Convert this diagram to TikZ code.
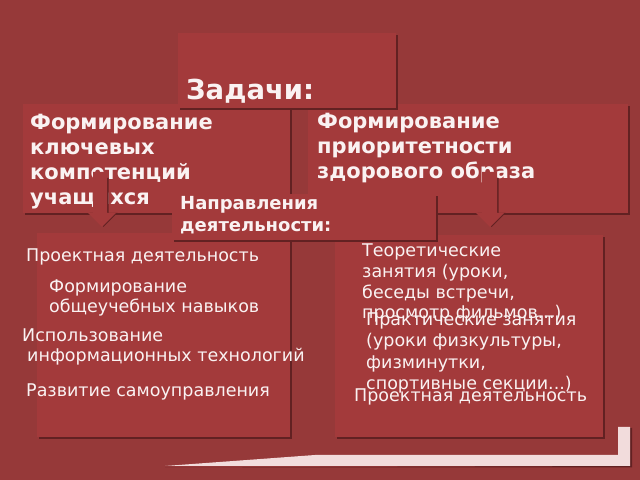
\documentclass[tikz,border=0pt]{standalone}
\usepackage{fontspec}
\setmainfont{DejaVu Sans}
\definecolor{bgred}{RGB}{150,57,57}
\definecolor{boxred}{RGB}{163,58,59}
\definecolor{shadowred}{RGB}{98,33,34}
\definecolor{txtwhite}{RGB}{250,242,242}
\definecolor{barpink}{RGB}{242,220,220}
\begin{document}
\begin{tikzpicture}[>=latex,line join=bevel,
  boxshadow/.style={fill=shadowred},
  boxfill/.style={fill=boxred},
  headtext/.style={anchor=base west,inner sep=0pt,align=left,text=txtwhite,font=\bfseries\fontsize{21bp}{25.3bp}\selectfont},
  bodytext/.style={anchor=base west,inner sep=0pt,align=left,text=txtwhite,font=\fontsize{17.5bp}{20.7bp}\selectfont},]
%%
\useasboundingbox (0bp,0bp) rectangle (640bp,480bp);
\fill [bgred] (0bp,0bp) rectangle (640bp,480bp);
%
\fill [boxshadow] (25bp,265bp) rectangle (292bp,374bp);
\fill [boxfill] (23bp,267bp) rectangle (290bp,376bp);
\node (node_skills) at (30bp,275bp) [headtext] {Формирование\\ключевых\\компетенций\\учащихся};
\fill [boxshadow] (310bp,265bp) rectangle (630bp,374bp);
\fill [boxfill] (308bp,267bp) rectangle (628bp,376bp);
\node (node_health) at (317bp,301bp) [headtext] {Формирование\\приоритетности\\здорового образа};
%
\fill [boxshadow] (95.5bp,302bp) -- (108.5bp,302bp) -- (108.5bp,267bp) -- (117.5bp,267bp) -- (103.5bp,253bp) -- (89.5bp,267bp) -- (95.5bp,267bp) -- cycle;
\fill [boxfill] (93bp,308bp) -- (107bp,308bp) -- (107bp,267bp) -- (116bp,267bp) -- (102bp,253bp) -- (88bp,267bp) -- (93bp,267bp) -- cycle;
\fill [boxshadow] (484.5bp,302bp) -- (498.5bp,302bp) -- (498.5bp,267bp) -- (505.5bp,267bp) -- (491.5bp,253bp) -- (477.5bp,267bp) -- (484.5bp,267bp) -- cycle;
\fill [boxfill] (482bp,308bp) -- (497bp,308bp) -- (497bp,267bp) -- (504bp,267bp) -- (490bp,253bp) -- (476bp,267bp) -- (482bp,267bp) -- cycle;
%
\fill [boxshadow] (180bp,370bp) rectangle (398bp,445bp);
\fill [boxfill] (178bp,372bp) rectangle (396bp,447bp);
\node (node_tasks) at (186bp,380bp) [headtext,font=\bfseries\fontsize{27.5bp}{30bp}\selectfont] {Задачи:};
%
\fill [boxshadow] (39bp,41bp) rectangle (292bp,245bp);
\fill [boxfill] (37bp,43bp) rectangle (290bp,247bp);
\fill [boxshadow] (337bp,41bp) rectangle (605bp,243bp);
\fill [boxfill] (335bp,43bp) rectangle (603bp,245bp);
%
\fill [boxshadow] (174bp,238bp) rectangle (438bp,284bp);
\fill [boxfill] (172bp,240bp) rectangle (436bp,286bp);
\node (node_ways) at (180bp,248bp) [headtext,font=\bfseries\fontsize{18bp}{22bp}\selectfont] {Направления\\деятельности:};
%
\node (node_proj_l) at (26bp,218bp) [bodytext] {Проектная деятельность};
\node (node_general) at (49bp,167bp) [bodytext] {Формирование\\общеучебных навыков};
\node (node_it) at (22bp,118bp) [bodytext] {Использование\\\hspace{5bp}информационных технологий};
\node (node_self) at (26bp,83bp) [bodytext] {Развитие самоуправления};
\node (node_theory) at (362bp,161bp) [bodytext] {Теоретические\\занятия (уроки,\\беседы встречи,\\просмотр фильмов...)};
\node (node_practice) at (366bp,90bp) [bodytext,font=\fontsize{17.5bp}{21.5bp}\selectfont] {Практические занятия\\(уроки физкультуры,\\физминутки,\\спортивные секции...)};
\node (node_proj_r) at (354bp,78bp) [bodytext] {Проектная деятельность};
%
\fill [boxshadow] (165bp,12.5bp) -- (632bp,12.5bp) -- (632bp,52bp) -- (630bp,52bp) -- (630bp,14bp) -- cycle;
\fill [barpink] (165bp,14bp) -- (315bp,25bp) -- (618bp,25bp) -- (618bp,53bp) -- (630bp,53bp) -- (630bp,14bp) -- cycle;
%
\end{tikzpicture}
\end{document}
